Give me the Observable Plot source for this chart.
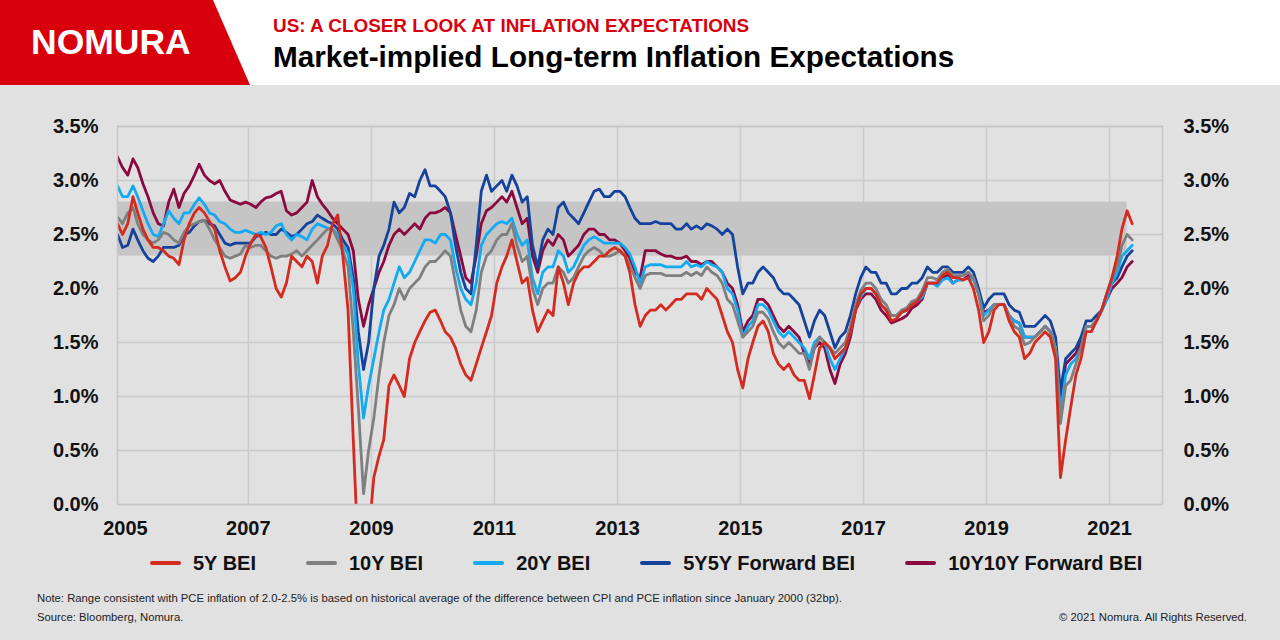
<!DOCTYPE html>
<html>
<head>
<meta charset="utf-8">
<script src="https://cdn.jsdelivr.net/npm/d3@7"></script>
<script src="https://cdn.jsdelivr.net/npm/@observablehq/plot@0.6"></script>
<style>
  html, body { margin: 0; padding: 0; }
  #page { position: relative; width: 1280px; height: 640px; background: #e1e1e1; overflow: hidden;
          font-family: "Liberation Sans", Arial, Helvetica, sans-serif; }
  #header { position: absolute; left: 0; top: 0; }
  #chart { position: absolute; left: 0; top: 85px; }
  #legend { position: absolute; left: 150px; top: 551px; height: 24px; display: flex; align-items: center; gap: 50px; }
  .item { display: flex; align-items: center; font-size: 20px; font-weight: bold; color: #111; white-space: nowrap; }
  .swatch { width: 31px; height: 4px; border-radius: 2px; margin-right: 12px; }
  .note { position: absolute; font-size: 11.3px; color: #222; white-space: nowrap; }
</style>
</head>
<body>
<div id="page">
  <svg id="header" width="1280" height="85">
    <rect x="0" y="0" width="1280" height="85" fill="#ffffff"></rect>
    <polygon points="0,0 213,0 250,85 0,85" fill="#d9000d"></polygon>
    <text x="31" y="54" fill="#ffffff" font-size="35.5" font-weight="bold" font-family="Liberation Sans, Arial, sans-serif">NOMURA</text>
    <text x="273" y="32" fill="#d9000d" font-size="18.9" font-weight="bold" font-family="Liberation Sans, Arial, sans-serif">US: A CLOSER LOOK AT INFLATION EXPECTATIONS</text>
    <text x="273" y="67" fill="#000000" font-size="29.7" font-weight="bold" font-family="Liberation Sans, Arial, sans-serif">Market-implied Long-term Inflation Expectations</text>
  </svg>
  <div id="chart"></div>
  <div id="legend"></div>
  <div class="note" style="left:37px; top:592px;">Note: Range consistent with PCE inflation of 2.0-2.5% is based on historical average of the difference between CPI and PCE inflation since January 2000 (32bp).</div>
  <div class="note" style="left:37px; top:611px;">Source: Bloomberg, Nomura.</div>
  <div class="note" style="right:33px; top:611px;">© 2021 Nomura. All Rights Reserved.</div>
</div>
<script>
// ---- Data (monthly readings, mid-month, Nov 2004 – May 2021), % ----
const firstMonth = "2004-11-15";

const bei5y = [
  2.60, 2.50,
  2.60, 2.85, 2.70, 2.55, 2.45, 2.38, 2.38, 2.35, 2.30, 2.28, 2.22, 2.45,
  2.60, 2.70, 2.75, 2.70, 2.62, 2.55, 2.35, 2.20, 2.07, 2.10, 2.15, 2.30,
  2.42, 2.50, 2.48, 2.38, 2.20, 2.00, 1.92, 2.05, 2.30, 2.25, 2.20, 2.30,
  2.25, 2.05, 2.30, 2.40, 2.60, 2.68, 2.30, 1.80, 0.60, -0.50, -1.20, -0.30,
  0.25, 0.45, 0.60, 1.10, 1.20, 1.10, 1.00, 1.35, 1.50, 1.60, 1.70, 1.78,
  1.80, 1.70, 1.60, 1.55, 1.45, 1.30, 1.20, 1.15, 1.30, 1.45, 1.60, 1.75,
  2.05, 2.20, 2.30, 2.45, 2.25, 2.05, 2.10, 1.80, 1.60, 1.70, 1.80, 1.75,
  2.20, 2.05, 1.85, 2.05, 2.15, 2.20, 2.20, 2.25, 2.30, 2.30, 2.35, 2.38,
  2.35, 2.30, 2.15, 1.85, 1.65, 1.75, 1.80, 1.80, 1.85, 1.80, 1.85, 1.90,
  1.90, 1.95, 1.95, 1.95, 1.90, 2.00, 1.95, 1.90, 1.75, 1.60, 1.50, 1.25,
  1.08, 1.35, 1.50, 1.65, 1.70, 1.60, 1.40, 1.30, 1.25, 1.30, 1.20, 1.15,
  1.15, 0.98, 1.20, 1.45, 1.50, 1.45, 1.35, 1.40, 1.45, 1.60, 1.80, 1.95,
  2.00, 2.00, 1.95, 1.85, 1.80, 1.70, 1.72, 1.78, 1.80, 1.85, 1.88, 1.95,
  2.05, 2.05, 2.05, 2.12, 2.15, 2.10, 2.10, 2.08, 2.10, 2.00, 1.80, 1.50,
  1.60, 1.80, 1.85, 1.85, 1.70, 1.60, 1.55, 1.35, 1.40, 1.50, 1.55, 1.60,
  1.55, 1.35, 0.25, 0.60, 0.90, 1.20, 1.35, 1.60, 1.60, 1.70, 1.80, 1.95,
  2.10, 2.30, 2.55, 2.72, 2.60
];
const bei10y = [
  2.66, 2.60,
  2.70, 2.75, 2.60, 2.50, 2.45, 2.42, 2.45, 2.52, 2.50, 2.45, 2.42, 2.52,
  2.58, 2.60, 2.62, 2.63, 2.55, 2.45, 2.38, 2.30, 2.28, 2.30, 2.32, 2.40,
  2.38, 2.40, 2.40, 2.35, 2.30, 2.28, 2.30, 2.30, 2.32, 2.35, 2.30, 2.35,
  2.40, 2.45, 2.50, 2.55, 2.55, 2.45, 2.35, 2.20, 1.60, 0.90, 0.10, 0.50,
  0.80, 1.20, 1.50, 1.75, 1.85, 2.00, 1.90, 2.00, 2.05, 2.10, 2.20, 2.25,
  2.25, 2.30, 2.35, 2.30, 2.05, 1.80, 1.65, 1.60, 1.80, 2.15, 2.30, 2.35,
  2.45, 2.50, 2.50, 2.60, 2.40, 2.25, 2.30, 2.00, 1.85, 2.00, 2.05, 2.05,
  2.20, 2.15, 2.05, 2.10, 2.20, 2.30, 2.35, 2.38, 2.35, 2.30, 2.30, 2.32,
  2.35, 2.30, 2.22, 2.10, 2.00, 2.12, 2.14, 2.14, 2.14, 2.12, 2.12, 2.12,
  2.12, 2.15, 2.12, 2.15, 2.12, 2.20, 2.15, 2.12, 2.05, 1.90, 1.85, 1.70,
  1.55, 1.60, 1.65, 1.78, 1.78, 1.72, 1.60, 1.50, 1.45, 1.50, 1.45, 1.40,
  1.40, 1.25, 1.45, 1.55, 1.50, 1.45, 1.40, 1.45, 1.50, 1.65, 1.85, 1.98,
  2.05, 2.05, 2.00, 1.90, 1.85, 1.75, 1.75, 1.80, 1.82, 1.88, 1.90, 1.98,
  2.10, 2.10, 2.08, 2.15, 2.18, 2.12, 2.12, 2.12, 2.15, 2.10, 1.95, 1.70,
  1.75, 1.85, 1.85, 1.85, 1.75, 1.65, 1.62, 1.48, 1.50, 1.55, 1.60, 1.65,
  1.60, 1.45, 0.75, 1.10, 1.15, 1.30, 1.45, 1.65, 1.65, 1.70, 1.80, 1.95,
  2.10, 2.20, 2.40, 2.50, 2.45
];
const bei20y = [
  2.95, 2.85,
  2.85, 2.95, 2.85, 2.72, 2.60, 2.50, 2.48, 2.60, 2.72, 2.65, 2.60, 2.70,
  2.70, 2.78, 2.84, 2.78, 2.70, 2.68, 2.62, 2.60, 2.55, 2.52, 2.52, 2.54,
  2.52, 2.50, 2.52, 2.50, 2.52, 2.58, 2.60, 2.50, 2.45, 2.50, 2.48, 2.45,
  2.55, 2.60, 2.58, 2.56, 2.55, 2.50, 2.40, 2.32, 2.00, 1.30, 0.80, 1.10,
  1.35, 1.60, 1.80, 1.90, 2.05, 2.20, 2.10, 2.15, 2.25, 2.35, 2.45, 2.45,
  2.42, 2.50, 2.50, 2.45, 2.20, 2.00, 1.90, 1.85, 2.05, 2.40, 2.50, 2.55,
  2.60, 2.62, 2.60, 2.65, 2.50, 2.40, 2.45, 2.10, 1.95, 2.15, 2.20, 2.20,
  2.35, 2.30, 2.15, 2.20, 2.30, 2.40, 2.45, 2.48, 2.45, 2.42, 2.42, 2.42,
  2.42, 2.38, 2.32, 2.20, 2.05, 2.20, 2.22, 2.22, 2.22, 2.20, 2.20, 2.20,
  2.20, 2.25, 2.20, 2.22, 2.20, 2.25, 2.22, 2.20, 2.15, 2.00, 1.95, 1.80,
  1.55, 1.65, 1.70, 1.85, 1.85, 1.80, 1.70, 1.60, 1.55, 1.60, 1.55, 1.50,
  1.45, 1.35, 1.50, 1.55, 1.50, 1.35, 1.25, 1.35, 1.45, 1.60, 1.82, 1.92,
  2.00, 2.00, 1.95, 1.85, 1.80, 1.75, 1.75, 1.78, 1.80, 1.85, 1.88, 1.92,
  2.05, 2.05, 2.02, 2.08, 2.10, 2.05, 2.08, 2.08, 2.10, 2.08, 1.95, 1.75,
  1.80, 1.85, 1.85, 1.85, 1.75, 1.70, 1.68, 1.55, 1.55, 1.55, 1.60, 1.65,
  1.60, 1.45, 0.85, 1.20, 1.30, 1.35, 1.45, 1.65, 1.65, 1.70, 1.80, 1.90,
  2.05, 2.15, 2.30, 2.35, 2.40
];
const fwd5y5y = [
  2.50, 2.38,
  2.40, 2.55, 2.45, 2.35, 2.28, 2.25, 2.30, 2.38, 2.38, 2.38, 2.40, 2.50,
  2.52, 2.58, 2.62, 2.63, 2.60, 2.58, 2.50, 2.42, 2.40, 2.42, 2.42, 2.42,
  2.42, 2.48, 2.50, 2.52, 2.50, 2.50, 2.55, 2.52, 2.48, 2.50, 2.55, 2.60,
  2.62, 2.68, 2.65, 2.62, 2.60, 2.55, 2.45, 2.38, 2.10, 1.60, 1.25, 1.50,
  2.00, 2.30, 2.40, 2.55, 2.80, 2.70, 2.75, 2.88, 2.85, 3.00, 3.10, 2.95,
  2.95, 2.90, 2.85, 2.70, 2.40, 2.15, 2.00, 1.95, 2.40, 2.90, 3.05, 2.90,
  2.95, 3.00, 2.90, 3.05, 2.95, 2.80, 2.85, 2.40, 2.20, 2.45, 2.55, 2.50,
  2.75, 2.80, 2.70, 2.65, 2.60, 2.70, 2.80, 2.90, 2.92, 2.85, 2.85, 2.90,
  2.90, 2.85, 2.75, 2.65, 2.60, 2.60, 2.60, 2.62, 2.60, 2.60, 2.60, 2.55,
  2.55, 2.60, 2.55, 2.58, 2.55, 2.60, 2.58, 2.55, 2.50, 2.55, 2.50, 2.20,
  1.95, 2.05, 2.05, 2.15, 2.20, 2.15, 2.10, 2.00, 1.95, 1.95, 1.90, 1.85,
  1.70, 1.55, 1.70, 1.80, 1.75, 1.60, 1.45, 1.55, 1.60, 1.75, 1.95, 2.10,
  2.20, 2.15, 2.15, 2.05, 2.05, 1.95, 1.95, 2.00, 2.00, 2.05, 2.05, 2.10,
  2.20, 2.15, 2.15, 2.20, 2.20, 2.15, 2.15, 2.15, 2.20, 2.15, 2.00, 1.82,
  1.90, 1.95, 1.95, 1.95, 1.85, 1.80, 1.78, 1.65, 1.65, 1.65, 1.70, 1.75,
  1.70, 1.55, 1.05, 1.35, 1.40, 1.45, 1.55, 1.70, 1.70, 1.75, 1.80, 1.95,
  2.05, 2.10, 2.20, 2.30, 2.35
];
const fwd10y10y = [
  3.22, 3.12,
  3.05, 3.20, 3.12, 2.97, 2.85, 2.70, 2.60, 2.58, 2.80, 2.92, 2.75, 2.88,
  2.95, 3.05, 3.15, 3.05, 3.00, 2.97, 3.00, 2.90, 2.82, 2.80, 2.78, 2.80,
  2.78, 2.75, 2.80, 2.84, 2.85, 2.88, 2.90, 2.72, 2.68, 2.70, 2.75, 2.80,
  3.00, 2.85, 2.78, 2.72, 2.65, 2.60, 2.55, 2.50, 2.35, 1.90, 1.65, 1.85,
  2.00, 2.15, 2.25, 2.40, 2.50, 2.55, 2.50, 2.55, 2.60, 2.55, 2.65, 2.70,
  2.70, 2.72, 2.75, 2.70, 2.50, 2.30, 2.10, 2.05, 2.30, 2.60, 2.72, 2.75,
  2.80, 2.85, 2.80, 2.90, 2.75, 2.60, 2.65, 2.30, 2.15, 2.35, 2.45, 2.40,
  2.50, 2.45, 2.30, 2.35, 2.40, 2.50, 2.55, 2.55, 2.50, 2.50, 2.45, 2.45,
  2.42, 2.35, 2.28, 2.15, 2.10, 2.35, 2.35, 2.35, 2.32, 2.30, 2.30, 2.28,
  2.28, 2.30, 2.25, 2.25, 2.22, 2.25, 2.25, 2.20, 2.15, 2.05, 2.00, 1.85,
  1.60, 1.70, 1.75, 1.90, 1.90, 1.85, 1.75, 1.65, 1.60, 1.65, 1.60, 1.55,
  1.40, 1.30, 1.45, 1.50, 1.45, 1.25, 1.12, 1.30, 1.40, 1.55, 1.80, 1.90,
  1.95, 1.95, 1.90, 1.80, 1.75, 1.68, 1.70, 1.72, 1.75, 1.82, 1.85, 1.90,
  2.05, 2.05, 2.05, 2.10, 2.12, 2.05, 2.08, 2.08, 2.12, 2.10, 1.95, 1.78,
  1.80, 1.85, 1.85, 1.85, 1.75, 1.70, 1.68, 1.55, 1.55, 1.55, 1.60, 1.65,
  1.60, 1.45, 0.95, 1.30, 1.35, 1.40, 1.50, 1.65, 1.65, 1.70, 1.80, 1.90,
  2.00, 2.05, 2.10, 2.20, 2.25
];

const seriesNames  = ["5Y BEI", "10Y BEI", "20Y BEI", "5Y5Y Forward BEI", "10Y10Y Forward BEI"];
const seriesValues = [bei5y, bei10y, bei20y, fwd5y5y, fwd10y10y];
const seriesColors = ["#d42a20", "#7f7f7f", "#12aaf2", "#15429a", "#8a0a40"];

// PCE-consistent range band (%)
const bandLow = 2.3, bandHigh = 2.8;
const bandStart = "2004-11-15", bandEnd = "2021-04-15";

const xDomain = ["2004-11-15", "2021-11-11"];
const xTickYears = [2005, 2007, 2009, 2011, 2013, 2015, 2017, 2019, 2021];
const xGridYears = [2007, 2009, 2011, 2013, 2015, 2017, 2019, 2021];
const yTicks = [0, 0.5, 1.0, 1.5, 2.0, 2.5, 3.0, 3.5];

// ---- Build tables ----
const t0 = new Date(firstMonth);
const rows = [];
seriesNames.forEach((name, k) => {
  seriesValues[k].forEach((v, i) => rows.push({series: name, date: d3.utcMonth.offset(t0, i), value: v}));
});
const yearDate = y => new Date(Date.UTC(y, 0, 1));
const fmtPct = d => d.toFixed(1) + "%";

const drawOrder = [4, 3, 2, 1, 0]; // 10Y10Y at the back, 5Y BEI on top

const chart = Plot.plot({
  width: 1280,
  height: 470,
  marginLeft: 117,
  marginRight: 118,
  marginTop: 41,
  marginBottom: 51,
  style: {background: "transparent", fontFamily: "Liberation Sans, Arial, sans-serif", fontSize: "20px", fontWeight: "bold", color: "#111", overflow: "visible"},
  x: {type: "utc", domain: xDomain.map(d => new Date(d))},
  y: {domain: [0, 3.5]},
  marks: [
    Plot.ruleY(yTicks, {stroke: "#cacaca", strokeWidth: 1.5}),
    Plot.ruleX(xGridYears.map(yearDate), {stroke: "#cacaca", strokeWidth: 1.5}),
    Plot.rect([{x1: new Date(bandStart), x2: new Date(bandEnd), y1: bandLow, y2: bandHigh}],
      {x1: "x1", x2: "x2", y1: "y1", y2: "y2", fill: "#c5c5c5"}),
    ...drawOrder.map(k => Plot.line(rows.filter(r => r.series === seriesNames[k]), {
      x: "date", y: "value", stroke: seriesColors[k], strokeWidth: 2.8, strokeLinejoin: "round", clip: true
    })),
    Plot.frame({stroke: "#c6c6c6", strokeWidth: 1.5}),
    Plot.axisY(yTicks, {anchor: "left", tickSize: 0, tickPadding: 19, tickFormat: fmtPct, fontSize: 20, fontWeight: "bold", label: null}),
    Plot.axisY(yTicks, {anchor: "right", tickSize: 0, tickPadding: 21, tickFormat: fmtPct, fontSize: 20, fontWeight: "bold", label: null}),
    Plot.axisX(xTickYears.map(yearDate), {anchor: "bottom", tickSize: 0, tickPadding: 16, tickFormat: d3.utcFormat("%Y"), fontSize: 20, fontWeight: "bold", label: null})
  ]
});
document.getElementById("chart").appendChild(chart);

// ---- Legend ----
const legend = document.getElementById("legend");
seriesNames.forEach((name, k) => {
  const item = document.createElement("div");
  item.className = "item";
  item.innerHTML = `<span class="swatch" style="background:${seriesColors[k]}"></span><span>${name}</span>`;
  legend.appendChild(item);
});
</script>
</body>
</html>
